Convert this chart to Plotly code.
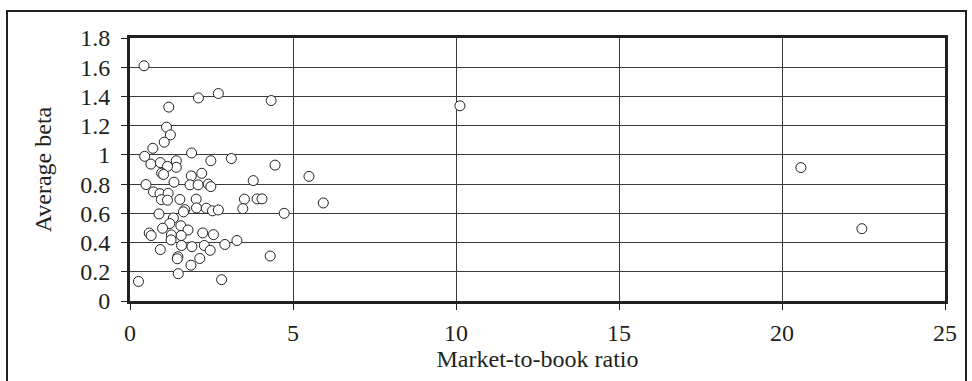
import plotly.graph_objects as go

# Market-to-book ratio vs. average beta, one marker per firm
market_to_book = [
    0.43, 2.10, 2.71, 1.19, 1.12, 1.24, 1.05, 0.70, 1.89, 0.45,
    0.64, 0.93, 1.42, 1.42, 1.15, 2.48, 3.11, 4.45, 0.97, 1.03,
    1.88, 2.20, 3.78, 5.49, 10.12, 4.33, 0.49, 1.35, 1.84, 2.09,
    2.40, 2.48, 0.72, 0.92, 1.17, 0.96, 1.15, 1.53, 2.03, 3.51,
    3.90, 4.05, 5.93, 1.68, 1.64, 2.04, 2.34, 2.53, 2.71, 3.46,
    4.73, 0.89, 1.33, 1.22, 1.56, 1.00, 1.78, 0.59, 0.65, 1.27,
    1.57, 2.23, 2.56, 1.26, 1.58, 1.90, 2.28, 2.46, 2.91, 3.28,
    0.93, 1.47, 1.45, 2.14, 1.87, 1.48, 0.26, 2.81, 4.30, 20.58,
    22.45,
]
average_beta = [
    1.610, 1.390, 1.420, 1.327, 1.190, 1.137, 1.087, 1.045, 1.013, 0.990,
    0.937, 0.947, 0.960, 0.915, 0.921, 0.960, 0.975, 0.930, 0.875, 0.866,
    0.856, 0.874, 0.824, 0.853, 1.336, 1.372, 0.797, 0.813, 0.795, 0.795,
    0.800, 0.783, 0.747, 0.735, 0.737, 0.694, 0.690, 0.695, 0.697, 0.697,
    0.699, 0.699, 0.671, 0.625, 0.610, 0.637, 0.635, 0.617, 0.623, 0.632,
    0.600, 0.596, 0.568, 0.530, 0.515, 0.498, 0.486, 0.465, 0.448, 0.452,
    0.448, 0.466, 0.454, 0.418, 0.380, 0.372, 0.380, 0.347, 0.387, 0.414,
    0.352, 0.303, 0.289, 0.291, 0.245, 0.187, 0.134, 0.146, 0.308, 0.913,
    0.495,
]

x_ticks = [0, 5, 10, 15, 20, 25]
x_tick_labels = ["0", "5", "10", "15", "20", "25"]
y_ticks = [0, 0.2, 0.4, 0.6, 0.8, 1.0, 1.2, 1.4, 1.6, 1.8]
y_tick_labels = ["0", "0.2", "0.4", "0.6", "0.8", "1", "1.2", "1.4", "1.6", "1.8"]

FONT = "Liberation Serif"
INK = "#231f20"

fig = go.Figure(
    go.Scatter(
        x=market_to_book,
        y=average_beta,
        mode="markers",
        marker=dict(size=10, color="white", line=dict(color=INK, width=1)),
        showlegend=False,
    )
)

W, H = 972, 381
L, R, T, B = 130, 27, 38, 80
pw, ph = W - L - R, H - T - B

def px_x(p):
    return (p - L) / pw

def px_y(p):
    return (H - B - p) / ph

# Outer frame around the whole chart
fig.add_shape(
    type="rect", xref="paper", yref="paper",
    x0=px_x(7), x1=px_x(966), y0=px_y(390), y1=px_y(11),
    line=dict(color=INK, width=2), layer="below",
)

fig.update_layout(
    width=W, height=H,
    margin=dict(l=L, r=R, t=T, b=B),
    paper_bgcolor="white", plot_bgcolor="white",
    font=dict(family=FONT, size=24, color=INK),
    xaxis=dict(
        range=[0, 25], tickvals=x_ticks, ticktext=x_tick_labels,
        showgrid=True, gridcolor="#3a3a3a", gridwidth=1,
        zeroline=False, showline=True, linecolor=INK, linewidth=3, mirror=True,
        ticks="outside", ticklen=6, tickcolor=INK, tickwidth=1,
        ticklabelstandoff=2,
        title=dict(text="Market-to-book ratio", font=dict(size=24), standoff=6),
    ),
    yaxis=dict(
        range=[0, 1.8], tickvals=y_ticks, ticktext=y_tick_labels,
        showgrid=True, gridcolor="#3a3a3a", gridwidth=1,
        zeroline=False, showline=True, linecolor=INK, linewidth=3, mirror=True,
        ticks="outside", ticklen=6, tickcolor=INK, tickwidth=1,
        ticklabelstandoff=6,
        title=dict(text="Average beta", font=dict(size=24), standoff=22),
    ),
)

fig.write_html("out.html")
